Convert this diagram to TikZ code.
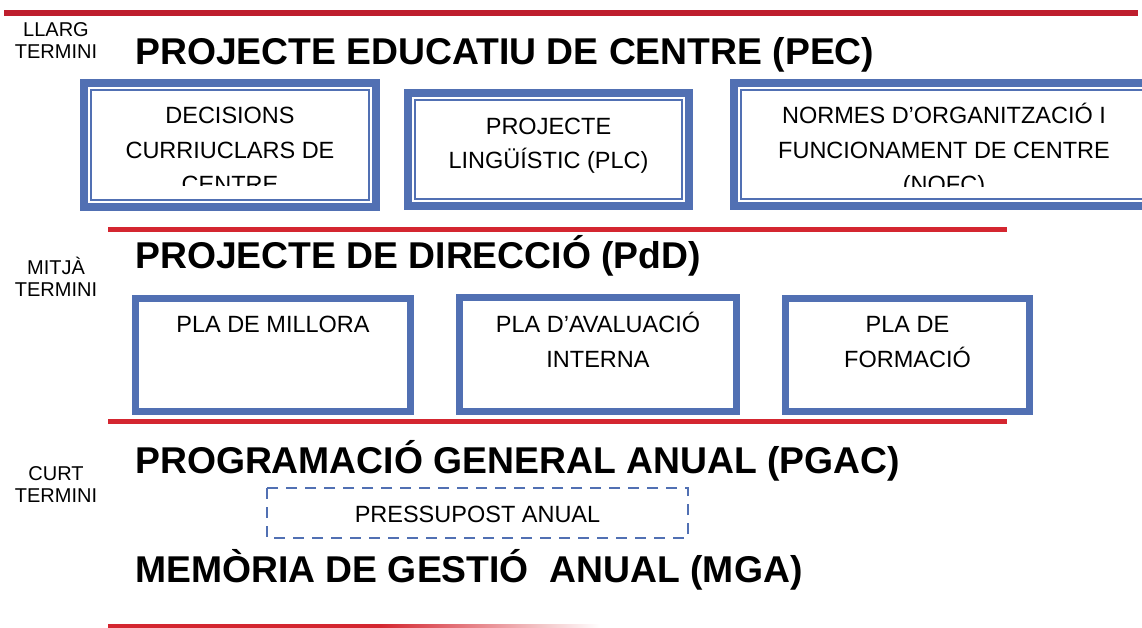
\documentclass[tikz,border=0pt]{standalone}
\usepackage{fontspec}
\setmainfont{Liberation Sans}

\definecolor{darkRed}{RGB}{190,30,45}
\definecolor{lineRed}{RGB}{212,38,48}
\definecolor{boxBlue}{RGB}{81,112,179}

\begin{document}
\begin{tikzpicture}[x=1pt,y=-1pt,
		heading/.style={anchor=base west,inner sep=0pt,font=\fontsize{37.3}{44}\selectfont\bfseries},
		termLabel/.style={anchor=base,inner sep=0pt,align=center,font=\fontsize{20}{22}\selectfont},
		boxText/.style={anchor=base,inner sep=0pt,align=center,font=\fontsize{23.5}{34.5}\selectfont}]
		\newcommand{\thickLine}{8pt}
		\newcommand{\thinLine}{2.5pt}
		% double framed box: outer x0,y0,x1,y1
		\newcommand{\dblBox}[4]{%
			\draw[boxBlue,line width=\thickLine] (#1+4,#2+4) rectangle (#3-4,#4-4);
			\draw[boxBlue,line width=\thinLine] (#1+11,#2+11) rectangle (#3-11,#4-11);}
		
		\useasboundingbox (0,0) rectangle (1142,628);
		
		% red rules
		\draw[darkRed,line width=6pt] (4,13) -- (1138,13);			% top rule
		\draw[lineRed,line width=5pt] (108,229.5) -- (1007,229.5);	% below long term
		\draw[lineRed,line width=5pt] (108,421.5) -- (1007,421.5);	% below mid term
		\fill[lineRed] (108,624) rectangle (380,629);				% bottom rule
		\shade[left color=lineRed,right color=white] (380,624) rectangle (600,629);
		
		% long term (base = last line)
		\node[termLabel] (llarg) at (56,59) {LLARG\\TERMINI};
		\node[heading] (pec) at (135,65) {PROJECTE EDUCATIU DE CENTRE (PEC)};
		
		\dblBox{80}{79}{380}{211}
		\dblBox{404}{89}{693}{210}
		\dblBox{730}{79}{1158}{210}
		
		\begin{scope}
			\clip (91,93) rectangle (369,186);
			\node[boxText] (curriculars) at (230,192.7) {DECISIONS\\CURRIUCLARS DE\\CENTRE};
		\end{scope}
		\node[boxText] (plc) at (548.5,169) {PROJECTE\\LINGÜÍSTIC (PLC)};
		\begin{scope}
			\clip (741,93) rectangle (1147,187);
			\node[boxText] (nofc) at (944,192.7) {NORMES D’ORGANITZACIÓ I\\FUNCIONAMENT DE CENTRE\\(NOFC)};
		\end{scope}
		
		% mid term
		\node[termLabel] (mitja) at (56,296) {MITJÀ\\TERMINI};
		\node[heading] (pdd) at (135,269) {PROJECTE DE DIRECCIÓ (PdD)};
		
		\draw[boxBlue,line width=7pt] (135.5,298.5) rectangle (410.5,411.5);
		\draw[boxBlue,line width=7pt] (459.5,297.5) rectangle (736.5,411.5);
		\draw[boxBlue,line width=7pt] (785.5,298.5) rectangle (1029.5,411.5);
		
		\node[boxText] (millora) at (273,332) {PLA DE MILLORA};
		\node[boxText] (avaluacio) at (598,367) {PLA D’AVALUACIÓ\\INTERNA};
		\node[boxText] (formacio) at (907.5,367) {PLA DE\\FORMACIÓ};
		
		% short term
		\node[termLabel] (curt) at (56,502) {CURT\\TERMINI};
		\node[heading] (pgac) at (135,473) {PROGRAMACIÓ GENERAL ANUAL (PGAC)};
		
		\draw[boxBlue,line width=2.5pt,dash pattern=on 11pt off 8pt] (267,488) rectangle (688,538);
		\node[boxText] (pressupost) at (477.5,522) {PRESSUPOST ANUAL};
		
		\node[heading] (mga) at (135,582) {MEMÒRIA DE GESTIÓ\ \ ANUAL (MGA)};
\end{tikzpicture}
\end{document}
